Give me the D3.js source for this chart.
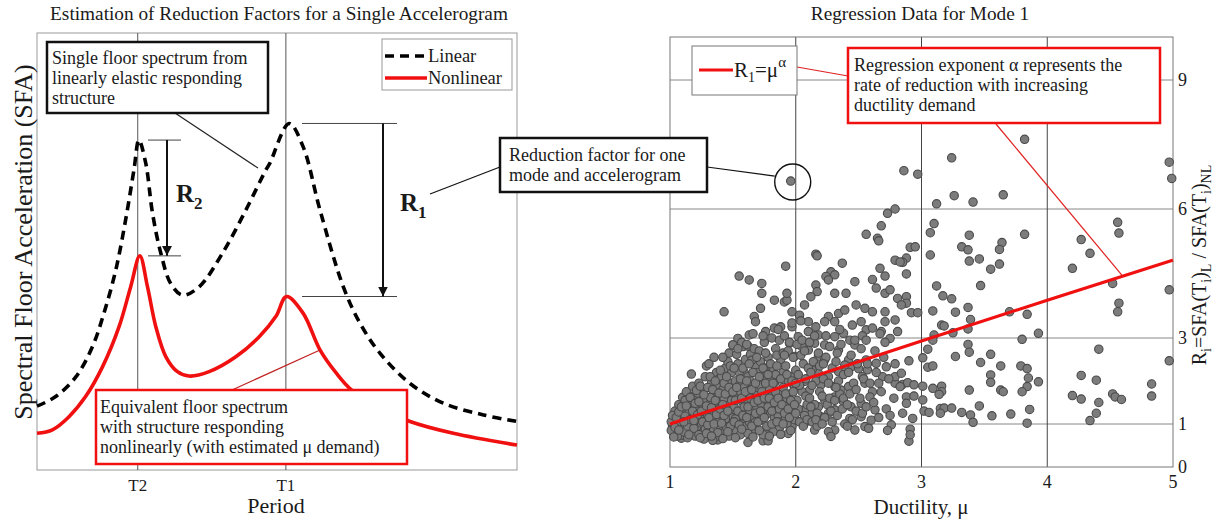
<!DOCTYPE html>
<html>
<head>
<meta charset="utf-8">
<script src="https://cdn.jsdelivr.net/npm/d3@7"></script>
<style>
  body { margin: 0; background: #fff; }
  text { font-family: "Liberation Serif", "DejaVu Serif", serif; fill: #1a1a1a; }
</style>
</head>
<body>
<svg id="canvas"></svg>
<script>
const width = 1223;
const height = 520;

// ---- left panel: floor spectra (period in arbitrary units, T2 = 0.5, T1 = 1.0)
const periodTicks = [0.5, 1.0];
const periodLabels = ["T2", "T1"];

const linearSpec = [
  [0.16, 0.146], [0.223, 0.168], [0.291, 0.213], [0.347, 0.282], [0.386, 0.359],
  [0.426, 0.458], [0.459, 0.572], [0.487, 0.686], [0.504, 0.755], [0.527, 0.702],
  [0.55, 0.587], [0.578, 0.496], [0.611, 0.427], [0.651, 0.4], [0.707, 0.419],
  [0.786, 0.496], [0.865, 0.595], [0.932, 0.686], [0.946, 0.702], [1.011, 0.793],
  [1.058, 0.74], [1.115, 0.595], [1.194, 0.419], [1.25, 0.336], [1.318, 0.267],
  [1.419, 0.198], [1.531, 0.153], [1.667, 0.126], [1.78, 0.111]
];

const nonlinearSpec = [
  [0.16, 0.084], [0.212, 0.092], [0.268, 0.122], [0.324, 0.168], [0.381, 0.236],
  [0.437, 0.328], [0.476, 0.419], [0.507, 0.49], [0.533, 0.419], [0.561, 0.328],
  [0.595, 0.259], [0.634, 0.225], [0.673, 0.215], [0.741, 0.225], [0.831, 0.259],
  [0.91, 0.305], [0.966, 0.351], [1.002, 0.397], [1.058, 0.359], [1.115, 0.275],
  [1.171, 0.221], [1.222, 0.183], [1.318, 0.142], [1.419, 0.111], [1.565, 0.084],
  [1.78, 0.057]
];

// ---- right panel: regression data for mode 1
const ductTicks = [1, 2, 3, 4, 5];
const ratioTicks = [0, 1, 3, 6, 9];
const fitLine = [[1, 1], [2, 1.97], [3, 2.93], [4, 3.88], [5, 4.81]];
const markedPoint = [1.96, 6.65];

const sparsePts = [
  [1.96,6.65],[2.86,6.89],[2.97,6.81],[3.24,7.19],[3.82,7.62],[3.26,6.31],[3.41,6.16],[3.65,6.33],
  [3.12,6.12],[2.79,6.0],[2.73,5.9],[2.68,5.61],[2.56,5.41],[2.65,5.32],[2.66,5.26],[2.91,5.11],
  [2.95,5.12],[3.1,5.66],[3.07,5.45],[3.38,5.39],[3.82,5.41],[3.64,5.22],[3.62,5.06],[3.32,5.12],
  [3.37,5.05],[4.27,5.29],[4.56,5.69],[4.57,5.44],[4.34,4.97],[2.16,4.95],[3.07,4.93],[4.97,7.09],
  [4.99,6.71],[4.97,4.12],[4.2,4.62],[4.52,4.27],[4.57,3.81],[4.56,3.61],[3.46,4.84],[2.88,4.86],
  [2.88,4.49],[3.38,4.79],[3.55,4.6],[3.62,4.72],[3.12,4.21],[3.17,3.98],[3.24,3.91],[3.47,4.22],
  [2.88,3.96],[2.88,3.81],[3.09,3.63],[3.27,3.6],[3.37,3.71],[3.7,3.61],[3.84,3.55],[2.92,3.59],
  [2.97,3.59],[2.85,4.76],[3.39,3.43],[3.93,3.11],[3.8,2.97],[3.37,3.21],[3.37,2.85],[3.38,2.67],
  [3.16,3.3],[3.18,3.28],[3.1,3.07],[3.09,2.95],[3.25,3.12],[3.05,2.74],[3.01,2.54],[2.9,2.47],
  [3.27,2.57],[3.47,2.43],[3.55,2.62],[3.63,2.35],[3.79,2.35],[3.84,2.29],[3.93,1.98],[3.85,2.07],
  [3.84,1.87],[3.8,1.75],[3.55,2.14],[3.55,1.97],[3.63,1.79],[3.65,1.75],[3.38,1.79],[3.05,2.32],
  [3.09,2.35],[2.85,1.92],[2.89,1.96],[2.94,1.91],[3.01,1.88],[3.09,1.83],[3.16,1.88],[3.16,1.75],
  [3.14,1.69],[2.88,1.63],[2.94,1.65],[2.88,1.48],[3.01,1.56],[2.85,1.25],[2.93,1.13],[2.91,0.88],
  [3.02,1.3],[3.06,1.27],[3.15,1.36],[3.18,1.37],[3.24,1.37],[3.15,1.25],[3.32,1.27],[3.39,1.21],
  [3.41,1.04],[3.46,1.42],[3.56,1.19],[3.71,1.23],[3.86,1.34],[3.84,1.02],[4.41,2.74],[4.27,2.13],
  [4.39,2.02],[4.2,1.66],[4.27,1.58],[4.41,1.5],[4.39,1.25],[4.34,1.08],[4.52,1.7],[4.54,1.63],
  [4.59,1.57],[4.97,2.47],[4.83,1.93],[4.83,1.65],[2.9,0.6],[2.91,0.75]
];

const clusterPts = [
  [1.55,4.44],[1.63,4.35],[1.73,4.27],[1.73,4.04],[1.83,3.88],[1.91,3.84],[1.92,4.67],[1.43,3.61],
  [1.72,3.69],[1.67,3.5],[1.68,3.38],[1.63,3.07],[1.76,3.15],[1.83,3.23],[1.88,3.26],[1.17,2.16],
  [1.54,2.99],[1.5,2.84],[1.58,2.8],[1.62,2.81],[1.09,0.67],[1.38,0.63],[1.62,0.57],[1.74,0.61],
  [1.78,0.61],[2.17,4.91],[2.37,4.74],[2.28,4.54],[2.31,4.47],[2.24,4.43],[2.26,4.35],[2.47,4.31],
  [2.16,4.23],[2.17,4.08],[2.12,3.96],[2.61,4.36],[2.71,4.44],[2.67,4.62],[2.79,4.81],[2.83,4.77],
  [2.4,4.04],[2.31,4.04],[2.64,4.16],[2.71,4.04],[2.75,4.12],[2.81,3.92],[2.84,3.77],[2.07,3.77],
  [1.97,3.61],[2.03,3.53],[1.93,3.88],[1.93,4.04],[2.48,3.77],[2.55,3.69],[2.61,3.61],[2.71,3.61],
  [2.26,3.5],[2.34,3.57],[2.39,3.65],[2.31,3.38],[2.23,3.38],[2.16,3.26],[2.1,3.38],[2.1,3.15],
  [2.18,3.07],[2.52,3.38],[2.56,3.19],[2.61,3.23],[2.68,3.15],[2.71,3.38],[2.79,3.42],[2.81,3.15],
  [2.75,2.99],[2.38,3.11],[2.43,2.95],[2.47,2.84],[2.31,3.03],[2.23,2.84],[2.34,2.72],[2.79,1.95],
  [2.83,1.87],[2.69,2.1],[2.64,2.41],[2.57,2.26],[2.53,2.1],[2.48,2.37],[2.42,2.49],[2.55,1.95],
  [2.61,1.75],[2.59,1.63],[2.52,1.48],[2.44,1.4],[2.38,1.52],[2.31,1.63],[2.23,1.56],[2.18,1.4],
  [2.12,1.25],[2.2,1.17],[2.26,1.25],[2.31,1.33],[2.43,1.13],[2.52,1.17],[2.6,1.09],[2.63,1.33],
  [2.55,0.94],[2.47,0.86],[2.31,0.86],[2.26,0.82],[2.28,0.71],[2.2,1.02],[2.15,0.86],[2.07,1.02],
  [1.97,0.94],[1.94,0.78],[1.99,1.17],[2.07,1.33],[2.79,2.1],[2.84,2.18],[2.72,2.33],[2.44,2.33],
  [2.5,2.29],[2.56,2.49],[2.39,2.37],[2.34,2.22],[2.26,2.1],[2.18,2.18],[2.13,2.26],[2.07,1.99],
  [2.02,1.87],[1.97,1.95],[2.11,1.79],[2.2,1.91],[2.31,1.87],[2.36,1.79],[2.42,1.87],[1.97,3.26],
  [2.02,3.03],[1.95,2.88],[2.05,2.8],[1.99,2.57],[2.1,2.72],[2.15,2.88],[2.18,2.57],[2.23,2.49]
];

const densePts = [
  [1.02,0.95],[1.03,1.12],[1.04,1.3],[1.05,0.8],[1.06,1.02],[1.07,1.45],[1.08,1.2],[1.09,0.9],
  [1.1,1.62],[1.01,1.05],[1.08,1.05],[1.1,0.74],[1.11,1.3],[1.12,0.98],[1.13,1.75],[1.14,1.15],
  [1.15,1.5],[1.16,0.85],[1.17,1.38],[1.18,1.02],[1.19,1.66],[1.12,1.55],[1.15,1.25],[1.18,1.88],
  [1.2,0.72],[1.14,0.68],[1.19,1.2],[1.21,1.4],[1.22,0.92],[1.23,1.95],[1.24,1.12],[1.25,1.6],
  [1.26,0.8],[1.27,1.3],[1.28,2.1],[1.29,1.0],[1.22,1.72],[1.24,1.48],[1.26,1.82],[1.28,1.55],
  [1.3,1.2],[1.21,1.08],[1.27,0.65],[1.29,2.35],[1.25,1.02],[1.31,1.45],[1.32,0.85],[1.33,1.95],
  [1.34,1.2],[1.35,1.7],[1.36,0.7],[1.37,2.2],[1.38,1.05],[1.39,1.55],[1.31,2.4],[1.33,1.1],
  [1.35,2.55],[1.36,1.35],[1.38,1.85],[1.4,0.95],[1.39,2.05],[1.34,0.62],[1.37,1.62],[1.32,1.62],
  [1.41,1.25],[1.42,1.8],[1.43,0.8],[1.44,2.3],[1.45,1.5],[1.46,1.05],[1.47,2.65],[1.48,1.35],
  [1.49,1.95],[1.41,2.1],[1.43,1.6],[1.45,0.92],[1.46,2.45],[1.48,1.72],[1.5,1.15],[1.44,1.12],
  [1.47,0.72],[1.49,2.2],[1.42,2.55],[1.5,2.84],[1.51,1.4],[1.52,2.0],[1.53,0.85],[1.54,2.4],
  [1.55,1.2],[1.56,1.75],[1.57,2.9],[1.58,1.0],[1.59,2.2],[1.51,1.62],[1.53,2.62],[1.55,1.9],
  [1.56,0.75],[1.58,1.5],[1.6,2.5],[1.52,1.12],[1.54,2.75],[1.57,1.3],[1.59,1.85],[1.6,0.95],
  [1.55,2.2],[1.61,1.55],[1.62,2.1],[1.63,1.05],[1.64,2.62],[1.65,1.35],[1.66,1.9],[1.67,0.88],
  [1.68,2.35],[1.69,1.7],[1.61,2.85],[1.63,1.25],[1.64,2.0],[1.66,1.15],[1.67,2.75],[1.69,1.4],
  [1.7,2.2],[1.62,0.78],[1.65,2.48],[1.68,1.05],[1.7,1.85],[1.66,3.1],[1.63,1.78],[1.71,1.6],
  [1.72,2.45],[1.73,1.1],[1.74,2.0],[1.75,2.9],[1.76,1.35],[1.77,2.25],[1.78,0.95],[1.79,1.8],
  [1.71,2.7],[1.73,1.45],[1.75,2.1],[1.76,0.8],[1.78,2.55],[1.8,1.25],[1.72,1.9],[1.74,3.05],
  [1.77,1.55],[1.79,2.35],[1.8,2.0],[1.74,0.75],[1.76,2.65],[1.81,1.65],[1.82,2.3],[1.83,1.15],
  [1.84,2.75],[1.85,1.4],[1.86,2.05],[1.87,0.9],[1.88,2.5],[1.89,1.75],[1.81,3.0],[1.83,1.95],
  [1.85,2.6],[1.86,1.2],[1.88,1.55],[1.9,2.2],[1.82,0.82],[1.84,1.35],[1.87,2.95],[1.89,1.05],
  [1.9,2.65],[1.84,2.15],[1.86,3.2],[1.91,1.45],[1.92,2.35],[1.93,1.0],[1.94,2.7],[1.95,1.7],
  [1.96,2.1],[1.97,1.25],[1.98,2.55],[1.99,1.85],[1.91,3.05],[1.93,1.6],[1.95,2.9],[1.96,0.85],
  [1.98,1.4],[2.0,2.25],[1.92,1.15],[1.94,2.0],[1.97,3.35],[1.99,1.1],[1.91,2.6],[2.01,1.55],
  [2.02,2.15],[2.03,1.05],[2.04,2.6],[2.05,1.75],[2.06,2.4],[2.07,1.2],[2.08,2.05],[2.09,1.45],
  [2.01,2.85],[2.03,1.9],[2.05,2.95],[2.06,0.95],[2.08,1.65],[2.1,2.3],[2.02,1.35],[2.04,3.4],
  [2.07,2.7],[2.09,1.1],[2.11,1.6],[2.12,2.2],[2.13,1.05],[2.14,2.45],[2.15,1.45],[2.16,2.0],
  [2.17,1.25],[2.18,2.65],[2.19,1.75],[2.11,2.9],[2.13,1.9],[2.15,3.05],[2.17,0.95],[2.19,2.35],
  [2.12,1.4],[2.16,1.1],[2.21,1.65],[2.22,2.05],[2.23,1.15],[2.24,2.55],[2.25,1.45],[2.26,1.95],
  [2.27,2.8],[2.28,1.3],[2.29,2.3],[2.21,1.0],[2.24,3.05],[2.27,1.6],[2.29,1.05],[2.22,2.4],
  [2.31,1.55],[2.32,2.45],[2.33,1.2],[2.34,2.0],[2.35,1.7],[2.36,2.85],[2.37,1.35],[2.38,2.15],
  [2.39,1.0],[2.32,1.85],[2.35,3.2],[2.38,1.6],[2.33,2.65],[2.41,1.45],[2.42,2.2],[2.43,1.7],
  [2.44,2.6],[2.45,1.1],[2.46,1.95],[2.47,2.95],[2.48,1.3],[2.49,2.4],[2.41,0.95],[2.45,3.3],
  [2.48,1.8],[2.51,1.6],[2.52,2.75],[2.53,1.25],[2.54,2.05],[2.56,1.4],[2.57,2.4],[2.58,0.9],
  [2.59,1.95],[2.53,3.05],[2.56,2.95],[2.62,1.5],[2.64,2.2],[2.66,1.15],[2.68,1.75],[2.7,2.55],
  [2.72,1.35],[2.74,2.05],[2.76,0.98],[2.78,1.6],[2.63,2.7],[2.67,3.1],[2.71,2.9],[2.75,1.2],
  [2.79,2.4],[2.66,1.95],[2.73,0.85],
  [1.01,0.85],[1.02,1.2],[1.04,0.92],[1.05,1.15],[1.06,0.72],[1.07,1.28],[1.09,1.4],[1.11,0.82],
  [1.12,1.18],[1.13,1.42],[1.14,0.95],[1.16,1.62],[1.16,1.1],[1.18,1.3],[1.19,0.9],[1.2,1.48],
  [1.21,1.78],[1.22,1.22],[1.23,0.75],[1.23,1.52],[1.24,1.88],[1.25,1.3],[1.26,1.05],[1.27,1.68],
  [1.28,0.88],[1.29,1.42],[1.3,1.85],[1.3,0.98],[1.31,1.15],[1.32,2.1],[1.33,1.38],[1.34,1.8],
  [1.35,1.0],[1.36,1.55],[1.36,2.0],[1.37,1.22],[1.38,0.8],[1.39,1.72],[1.4,1.35],[1.4,2.25],
  [1.41,1.02],[1.42,1.45],[1.43,1.95],[1.43,1.2],[1.44,1.7],[1.45,2.1],[1.46,1.3],[1.47,1.85],
  [1.48,0.95],[1.48,2.35],[1.49,1.55],[1.5,1.75],[1.51,1.05],[1.51,2.3],[1.52,1.55],[1.53,1.85],
  [1.54,1.3],[1.55,0.98],[1.56,2.05],[1.57,1.6],[1.58,2.3],[1.58,1.2],[1.59,1.4],[1.6,1.75],
  [1.61,1.15],[1.61,2.0],[1.62,1.4],[1.63,2.4],[1.64,1.6],[1.65,0.95],[1.65,1.8],[1.66,2.2],
  [1.67,1.5],[1.68,1.25],[1.68,1.95],[1.69,2.55],[1.7,1.05],[1.7,1.55],[1.71,2.1],[1.72,1.3],
  [1.73,1.75],[1.74,2.3],[1.75,1.15],[1.75,1.6],[1.76,1.95],[1.77,0.95],[1.78,1.4],[1.78,2.15],
  [1.79,1.6],[1.8,2.4],[1.81,1.0],[1.81,1.3],[1.82,1.95],[1.83,1.5],[1.84,1.75],[1.85,1.05],
  [1.85,2.35],[1.86,1.6],[1.87,1.35],[1.88,2.05],[1.89,1.45],[1.9,1.0],[1.9,1.85],[1.91,1.25],
  [1.92,1.7],[1.93,2.15],[1.94,1.35],[1.95,1.15],[1.96,1.55],[1.97,2.0],[1.98,1.75],[1.99,1.45],
  [2.0,1.25],[2.0,1.95],
  [1.03,0.7],[1.07,0.86],[1.11,1.05],[1.15,0.75],[1.19,1.08],[1.24,0.68],[1.29,0.78],[1.33,0.72],
  [1.42,0.66],[1.46,0.82],[1.52,0.68],[1.57,0.88],[1.66,0.7],[1.71,0.85],[1.79,0.72],[1.88,0.76]
];

const svg = d3.select("#canvas").attr("width", width).attr("height", height);

const defs = svg.append("defs");
defs.append("marker")
  .attr("id", "arrow")
  .attr("viewBox", "0 0 10 10")
  .attr("refX", 10).attr("refY", 5)
  .attr("markerWidth", 5).attr("markerHeight", 5.5)
  .attr("orient", "auto")
  .append("path").attr("d", "M0,0L10,5L0,10z").attr("fill", "#111");

// helper: white box with multi-line text
const drawBox = (x, y, w, h, lines, color, sw, tx, ty, lh) => {
  const g = svg.append("g");
  g.append("rect").attr("x", x).attr("y", y).attr("width", w).attr("height", h)
    .attr("fill", "#fff").attr("stroke", color).attr("stroke-width", sw);
  lines.forEach((l, i) => {
    g.append("text").attr("x", tx).attr("y", ty + i * lh)
      .attr("font-size", 18).text(l);
  });
  return g;
};

// ================= LEFT PANEL =================
const xL = d3.scaleLinear().domain([0.16, 1.78]).range([37, 517]);
const yL = d3.scaleLinear().domain([0, 1]).range([470, 33]);

svg.append("text").attr("x", 279).attr("y", 20).attr("text-anchor", "middle")
  .attr("font-size", 19.3).text("Estimation of Reduction Factors for a Single Accelerogram");

svg.append("rect").attr("x", xL.range()[0]).attr("y", yL.range()[1])
  .attr("width", xL.range()[1] - xL.range()[0]).attr("height", yL.range()[0] - yL.range()[1])
  .attr("fill", "none").attr("stroke", "#999").attr("stroke-width", 1);

svg.append("g").selectAll("line").data(periodTicks).enter().append("line")
  .attr("x1", (d) => xL(d)).attr("x2", (d) => xL(d))
  .attr("y1", yL(1)).attr("y2", yL(0))
  .attr("stroke", "#555").attr("stroke-width", 1);

svg.append("g").selectAll("text").data(periodTicks).enter().append("text")
  .attr("x", (d) => xL(d)).attr("y", 491).attr("text-anchor", "middle")
  .attr("font-size", 17).text((d, i) => periodLabels[i]);

svg.append("text").attr("x", 276).attr("y", 513).attr("text-anchor", "middle")
  .attr("font-size", 22).text("Period");

svg.append("text").attr("transform", "translate(23,242) rotate(-90)")
  .attr("text-anchor", "middle").attr("dy", "0.35em")
  .attr("font-size", 26).text("Spectral Floor Acceleration (SFA)");

const specLine = d3.line()
  .x((d) => xL(d[0])).y((d) => yL(d[1]))
  .curve(d3.curveCatmullRom.alpha(0.5));

svg.append("path").attr("d", specLine(nonlinearSpec))
  .attr("fill", "none").attr("stroke", "#f01010").attr("stroke-width", 3.6);
svg.append("path").attr("d", specLine(linearSpec))
  .attr("fill", "none").attr("stroke", "#000").attr("stroke-width", 3.6)
  .attr("stroke-dasharray", "9,6");

// R2 / R1 markers from curve peaks
const peakNear = (arr, lo, hi) => d3.max(arr.filter((d) => d[0] > lo && d[0] < hi), (d) => d[1]);
const drawR = (top, bottom, x0, x1, ax, label, sub, lx, ly) => {
  const g = svg.append("g");
  [top, bottom].forEach((v) => {
    g.append("line").attr("x1", x0).attr("x2", x1).attr("y1", yL(v)).attr("y2", yL(v))
      .attr("stroke", "#444").attr("stroke-width", 1);
  });
  g.append("line").attr("x1", ax).attr("x2", ax).attr("y1", yL(top)).attr("y2", yL(bottom))
    .attr("stroke", "#111").attr("stroke-width", 2).attr("marker-end", "url(#arrow)");
  const t = g.append("text").attr("x", lx).attr("y", ly).attr("font-weight", "bold").attr("font-size", 25);
  t.append("tspan").text(label);
  t.append("tspan").attr("font-size", 17).attr("dy", 7).text(sub);
};
drawR(peakNear(linearSpec, 0.3, 0.7), peakNear(nonlinearSpec, 0.3, 0.7),
  148, 181, 167, "R", "2", 176, 202);
drawR(peakNear(linearSpec, 0.8, 1.3), peakNear(nonlinearSpec, 0.8, 1.3),
  302, 397, 383, "R", "1", 400, 211);

// legend
svg.append("rect").attr("x", 382).attr("y", 39).attr("width", 130).attr("height", 51)
  .attr("fill", "#fff").attr("stroke", "#999");
svg.append("line").attr("x1", 385).attr("x2", 427).attr("y1", 56).attr("y2", 56)
  .attr("stroke", "#000").attr("stroke-width", 3.6).attr("stroke-dasharray", "9,6");
svg.append("line").attr("x1", 385).attr("x2", 427).attr("y1", 78).attr("y2", 78)
  .attr("stroke", "#f01010").attr("stroke-width", 3.6);
svg.append("text").attr("x", 428).attr("y", 62).attr("font-size", 18.5).text("Linear");
svg.append("text").attr("x", 428).attr("y", 84).attr("font-size", 18.5).text("Nonlinear");

// annotations left
svg.append("line").attr("x1", 175).attr("y1", 113).attr("x2", 258).attr("y2", 168)
  .attr("stroke", "#222").attr("stroke-width", 1.2);
drawBox(47, 42, 221, 71,
  ["Single floor spectrum from", "linearly elastic responding", "structure"],
  "#111", 2.5, 52, 64, 20);

svg.append("line").attr("x1", 232).attr("y1", 390).attr("x2", 320).attr("y2", 350)
  .attr("stroke", "#c02020").attr("stroke-width", 1.2);
drawBox(96, 390, 311, 74,
  ["Equivalent floor spectrum", "with structure responding", "nonlinearly (with estimated \u03bc demand)"],
  "#f01010", 2.5, 100, 413, 20);

// ================= RIGHT PANEL =================
const xR = d3.scaleLinear().domain([1, 5]).range([670, 1173]);
const yR = d3.scaleLinear().domain([0, 10]).range([467, 37]);

svg.append("text").attr("x", 920).attr("y", 20).attr("text-anchor", "middle")
  .attr("font-size", 19.3).text("Regression Data for Mode 1");

svg.append("g").selectAll("line").data(ratioTicks.filter((d) => d > 0)).enter().append("line")
  .attr("x1", xR(1)).attr("x2", xR(5)).attr("y1", (d) => yR(d)).attr("y2", (d) => yR(d))
  .attr("stroke", "#888").attr("stroke-width", 1);
svg.append("g").selectAll("line").data(ductTicks.slice(1, 4)).enter().append("line")
  .attr("x1", (d) => xR(d)).attr("x2", (d) => xR(d)).attr("y1", yR(10)).attr("y2", yR(0))
  .attr("stroke", "#444").attr("stroke-width", 1);
svg.append("rect").attr("x", xR(1)).attr("y", yR(10))
  .attr("width", xR(5) - xR(1)).attr("height", yR(0) - yR(10))
  .attr("fill", "none").attr("stroke", "#777").attr("stroke-width", 1);

svg.append("g").selectAll("text").data(ductTicks).enter().append("text")
  .attr("x", (d) => xR(d)).attr("y", 488).attr("text-anchor", "middle")
  .attr("font-size", 18).text((d) => d);
svg.append("g").selectAll("text").data(ratioTicks).enter().append("text")
  .attr("x", xR(5) + 5).attr("y", (d) => yR(d)).attr("dy", "0.35em")
  .attr("font-size", 18).text((d) => d);

svg.append("text").attr("x", 921).attr("y", 514).attr("text-anchor", "middle")
  .attr("font-size", 21).text("Ductility, \u03bc");

const yLab = svg.append("text").attr("transform", "translate(1206,265) rotate(-90)")
  .attr("text-anchor", "middle").attr("dy", "0.35em").attr("font-size", 20);
[["R", 0], ["i", 1], ["=SFA(T", 0], ["i", 1], [")", 0], ["L", 1], [" / SFA(T", 0], ["i", 1], [")", 0], ["NL", 1]]
  .reduce((prev, [s, sub]) => {
    const dy = (sub ? 5 : 0) - (prev ? 5 : 0);
    yLab.append("tspan").attr("dy", dy).attr("font-size", sub ? 14 : 20).text(s);
    return sub;
  }, 0);

// scatter
const allPts = sparsePts.concat(clusterPts, densePts);
svg.append("g").selectAll("circle").data(allPts).enter().append("circle")
  .attr("cx", (d) => xR(d[0])).attr("cy", (d) => yR(d[1])).attr("r", 4.2)
  .attr("fill", "#7c7c7c").attr("stroke", "#4a4a4a").attr("stroke-width", 1.1);

// regression fit
const fitPath = d3.line().x((d) => xR(d[0])).y((d) => yR(d[1])).curve(d3.curveMonotoneX);
svg.append("path").attr("d", fitPath(fitLine))
  .attr("fill", "none").attr("stroke", "#f01010").attr("stroke-width", 3.2);

// marked point circle + annotation
svg.append("circle").attr("cx", xR(markedPoint[0]) + 2).attr("cy", yR(markedPoint[1]) + 1).attr("r", 18)
  .attr("fill", "none").attr("stroke", "#111").attr("stroke-width", 1.4);
svg.append("line").attr("x1", 707).attr("y1", 167)
  .attr("x2", xR(markedPoint[0]) - 16).attr("y2", yR(markedPoint[1]) - 5)
  .attr("stroke", "#111").attr("stroke-width", 1.2);
svg.append("line").attr("x1", 430).attr("y1", 194).attr("x2", 500).attr("y2", 167)
  .attr("stroke", "#111").attr("stroke-width", 1.2);
drawBox(500, 138, 207, 54, ["Reduction factor for one", "mode and accelerogram"],
  "#111", 2.5, 509, 161, 20);

// legend + exponent annotation
const fitAt = (m) => {
  const i = d3.bisector((d) => d[0]).left(fitLine, m) - 1;
  const a = fitLine[Math.max(i, 0)], b = fitLine[Math.max(i, 0) + 1];
  return a[1] + (b[1] - a[1]) * (m - a[0]) / (b[0] - a[0]);
};
svg.append("line").attr("x1", 996).attr("y1", 124).attr("x2", xR(4.6)).attr("y2", yR(fitAt(4.6)))
  .attr("stroke", "#e02020").attr("stroke-width", 1.2);
svg.append("line").attr("x1", 797).attr("y1", 67).attr("x2", 848).attr("y2", 76)
  .attr("stroke", "#e02020").attr("stroke-width", 1.2);

svg.append("rect").attr("x", 692).attr("y", 46).attr("width", 105).attr("height", 49)
  .attr("fill", "#fff").attr("stroke", "#777");
svg.append("line").attr("x1", 699).attr("x2", 733).attr("y1", 70).attr("y2", 70)
  .attr("stroke", "#f01010").attr("stroke-width", 3.2);
const leg = svg.append("text").attr("x", 734).attr("y", 77).attr("font-size", 21);
leg.append("tspan").text("R");
leg.append("tspan").attr("dy", 5).attr("font-size", 14).text("1");
leg.append("tspan").attr("dy", -5).text("=\u03bc");
leg.append("tspan").attr("dy", -10).attr("font-size", 15).text("\u03b1");

drawBox(848, 48, 312, 75,
  ["Regression exponent \u03b1 represents the", "rate of reduction with increasing", "ductility demand"],
  "#f01010", 2.5, 854, 71, 20);
</script>
</body>
</html>
